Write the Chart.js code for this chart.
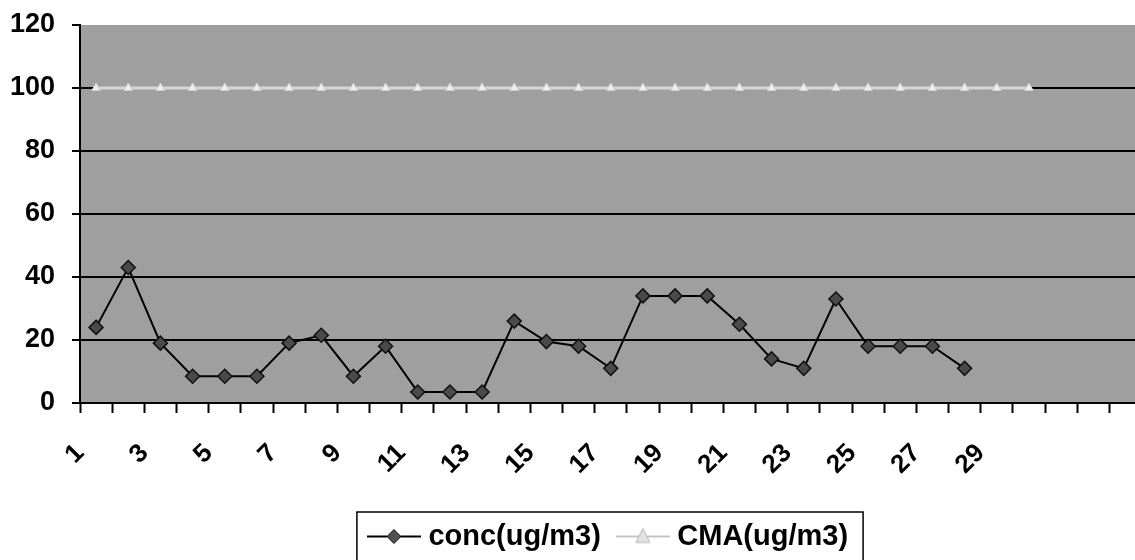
<!DOCTYPE html>
<html>
<head>
<meta charset="utf-8">
<script src="https://cdn.jsdelivr.net/npm/chart.js@4.4.1/dist/chart.umd.min.js"></script>
<style>
    html, body { margin: 0; padding: 0; background: #fff; overflow: hidden; }
    canvas { display: block; }
</style>
</head>
<body>
<canvas id="chart" width="1150" height="560"></canvas>
<script>
// подписи оси X (дни), после 30-го категории пустые
const days = ['1', '2', '3', '4', '5', '6', '7', '8', '9', '10',
              '11', '12', '13', '14', '15', '16', '17', '18', '19', '20',
              '21', '22', '23', '24', '25', '26', '27', '28', '29', '30',
              '', '', ''];

// концентрация, ug/m3
const conc = [24, 43, 19, 8.5, 8.5, 8.5, 19, 21.5, 8.5, 18,
              3.5, 3.5, 3.5, 26, 19.5, 18, 11, 34, 34, 34,
              25, 14, 11, 33, 18, 18, 18, 11];

// предельно допустимая концентрация
const cma = [100, 100, 100, 100, 100, 100, 100, 100, 100, 100,
             100, 100, 100, 100, 100, 100, 100, 100, 100, 100,
             100, 100, 100, 100, 100, 100, 100, 100, 100, 100];

const yMin = 0;
const yMax = 120;
const yStep = 20;

// Иконки для легенды: линия + маркер
function makeIcon(lineColor, fill, stroke, shape) {
    const c = document.createElement('canvas');
    c.width = 54;
    c.height = 22;
    const g = c.getContext('2d');
    g.strokeStyle = lineColor;
    g.lineWidth = 2;
    g.beginPath();
    g.moveTo(0, 11);
    g.lineTo(54, 11);
    g.stroke();
    g.fillStyle = fill;
    g.strokeStyle = stroke;
    g.lineWidth = 1;
    g.beginPath();
    if (shape === 'diamond') {
        g.moveTo(27, 4); g.lineTo(34, 11); g.lineTo(27, 18); g.lineTo(20, 11);
    } else {
        g.moveTo(27, 3); g.lineTo(34, 17); g.lineTo(20, 17);
    }
    g.closePath();
    g.fill();
    g.stroke();
    return c;
}

const icons = [
    makeIcon('#000', '#505050', '#111', 'diamond'),
    makeIcon('#c4c4c4', '#e2e2e2', '#b8b8b8', 'triangle')
];

// серый фон области построения
const plotBg = {
    id: 'plotBg',
    beforeDraw(chart) {
        const a = chart.chartArea;
        const ctx = chart.ctx;
        ctx.save();
        ctx.fillStyle = '#9f9f9f';
        ctx.fillRect(a.left, a.top, a.right - a.left, a.bottom - a.top);
        ctx.restore();
    }
};

// сдвиг легенды вправо (как в оригинале) и рамка вокруг неё
const legendFrame = {
    id: 'legendFrame',
    afterLayout(chart) {
        const lg = chart.legend;
        lg.left += 36;
        lg.right += 36;
        lg.top += 1;
        lg.bottom += 1;
    },
    afterDraw(chart) {
        const lg = chart.legend;
        if (!lg || !lg.legendHitBoxes.length) return;
        let left = Infinity, right = -Infinity;
        const hb = lg.legendHitBoxes[0];
        lg.legendHitBoxes.forEach(b => {
            left = Math.min(left, b.left);
            right = Math.max(right, b.left + b.width);
        });
        const cy = hb.top + hb.height / 2;
        const ctx = chart.ctx;
        ctx.save();
        ctx.strokeStyle = '#000';
        ctx.lineWidth = 1.5;
        ctx.strokeRect(left - 17, cy - 24.5, right - left + 32, 60);
        ctx.restore();
    }
};

new Chart(document.getElementById('chart').getContext('2d'), {
    type: 'line',
    data: {
        labels: days,
        datasets: [{
            label: 'conc(ug/m3)',
            data: conc,
            borderColor: '#000',
            borderWidth: 2,
            tension: 0,
            pointStyle: 'rectRot',
            pointRadius: 7,
            pointBackgroundColor: '#4a4a4a',
            pointBorderColor: '#111',
            pointBorderWidth: 1.5
        }, {
            label: 'CMA(ug/m3)',
            data: cma,
            borderColor: '#d6d6d6',
            borderWidth: 3,
            tension: 0,
            pointStyle: 'triangle',
            pointRadius: 5,
            pointBackgroundColor: '#eeeeee',
            pointBorderColor: '#cfcfcf',
            pointBorderWidth: 1
        }]
    },
    options: {
        responsive: false,
        animation: false,
        layout: { padding: { top: 25, bottom: 0, left: 0, right: 0 } },
        plugins: {
            tooltip: { enabled: false },
            legend: {
                position: 'bottom',
                labels: {
                    usePointStyle: true,
                    pointStyleWidth: 40,
                    color: '#000',
                    padding: 22,
                    font: { family: 'Liberation Sans', size: 29, weight: 'bold' },
                    generateLabels(chart) {
                        const items = Chart.defaults.plugins.legend.labels.generateLabels(chart);
                        items.forEach((it, i) => { it.pointStyle = icons[i]; });
                        return items;
                    }
                }
            }
        },
        scales: {
            x: {
                offset: true,
                grid: {
                    offset: true,
                    drawOnChartArea: false,
                    tickLength: 10,
                    tickWidth: 2,
                    tickColor: '#000'
                },
                border: { color: '#000', width: 2 },
                ticks: {
                    autoSkip: false,
                    minRotation: 45,
                    maxRotation: 45,
                    padding: 25,
                    labelOffset: -16,
                    color: '#000',
                    font: { family: 'Liberation Sans', size: 26, weight: 'bold' },
                    callback: function(value, index) {
                        return index % 2 === 0 ? this.getLabelForValue(value) : '';
                    }
                },
                afterFit(scale) {
                    scale.height = 96;
                    scale.paddingLeft = 0;
                    scale.paddingRight = 0;
                }
            },
            y: {
                min: yMin,
                max: yMax,
                ticks: {
                    stepSize: yStep,
                    padding: 17,
                    color: '#000',
                    font: { family: 'Liberation Sans', size: 27, weight: 'bold' }
                },
                grid: {
                    color: c => (c.tick && c.tick.value === yMax) ? 'rgba(0,0,0,0)' : '#000',
                    lineWidth: 2,
                    tickLength: 8,
                    tickWidth: 2,
                    tickColor: '#000'
                },
                border: { color: '#000', width: 2 },
                afterFit(scale) {
                    scale.width = 80;
                    scale.paddingTop = 0;
                    scale.paddingBottom = 0;
                }
            }
        }
    },
    plugins: [plotBg, legendFrame]
});
</script>
</body>
</html>
